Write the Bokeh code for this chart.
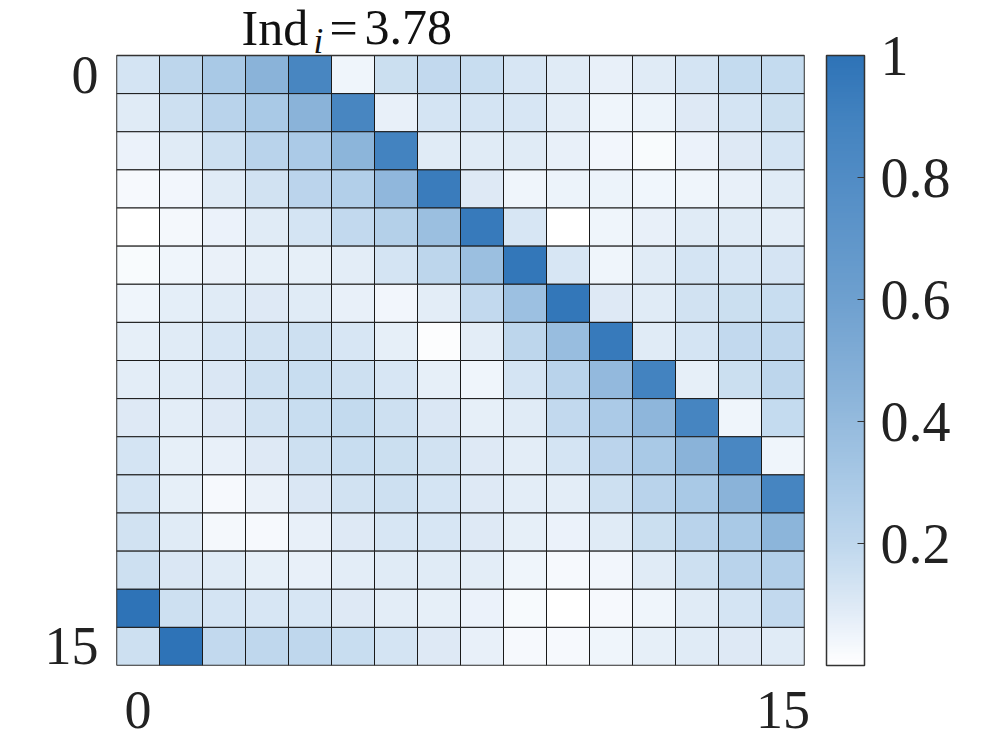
import numpy as np
from bokeh.plotting import figure
from bokeh.models import (ColumnDataSource, LinearColorMapper, ColorBar, FixedTicker,
                          CustomJSTickFormatter)
from bokeh.core.properties import value
from bokeh.embed import file_html
from bokeh.resources import INLINE

# ---------------- data ----------------
row_00 = [0.13, 0.21, 0.30, 0.45, 0.86, 0.05, 0.16, 0.19, 0.17, 0.12, 0.09, 0.07, 0.09, 0.13, 0.18, 0.18]
row_01 = [0.09, 0.15, 0.23, 0.30, 0.45, 0.86, 0.07, 0.13, 0.13, 0.12, 0.085, 0.05, 0.055, 0.10, 0.13, 0.16]
row_02 = [0.06, 0.09, 0.15, 0.23, 0.29, 0.44, 0.89, 0.09, 0.09, 0.09, 0.07, 0.04, 0.02, 0.06, 0.10, 0.13]
row_03 = [0.03, 0.04, 0.09, 0.14, 0.22, 0.26, 0.42, 0.94, 0.10, 0.05, 0.055, 0.055, 0.045, 0.05, 0.07, 0.09]
row_04 = [0.0, 0.035, 0.06, 0.09, 0.13, 0.19, 0.25, 0.37, 0.95, 0.12, 0.0, 0.05, 0.07, 0.09, 0.09, 0.085]
row_05 = [0.02, 0.05, 0.065, 0.075, 0.075, 0.085, 0.13, 0.21, 0.37, 0.97, 0.12, 0.05, 0.09, 0.13, 0.12, 0.125]
row_06 = [0.05, 0.08, 0.09, 0.10, 0.09, 0.07, 0.04, 0.085, 0.19, 0.36, 0.97, 0.10, 0.09, 0.14, 0.16, 0.17]
row_07 = [0.075, 0.09, 0.12, 0.14, 0.15, 0.12, 0.075, 0.01, 0.085, 0.21, 0.38, 0.95, 0.09, 0.13, 0.19, 0.20]
row_08 = [0.085, 0.09, 0.11, 0.15, 0.17, 0.15, 0.12, 0.075, 0.05, 0.13, 0.23, 0.41, 0.89, 0.075, 0.16, 0.21]
row_09 = [0.10, 0.085, 0.10, 0.14, 0.17, 0.185, 0.15, 0.11, 0.075, 0.09, 0.19, 0.29, 0.43, 0.87, 0.05, 0.18]
row_10 = [0.13, 0.075, 0.07, 0.10, 0.15, 0.17, 0.16, 0.14, 0.10, 0.085, 0.13, 0.22, 0.30, 0.45, 0.85, 0.05]
row_11 = [0.13, 0.075, 0.03, 0.065, 0.11, 0.14, 0.15, 0.13, 0.10, 0.085, 0.085, 0.15, 0.23, 0.30, 0.45, 0.87]
row_12 = [0.14, 0.09, 0.035, 0.03, 0.07, 0.10, 0.12, 0.12, 0.10, 0.075, 0.06, 0.09, 0.16, 0.23, 0.30, 0.44]
row_13 = [0.15, 0.11, 0.09, 0.075, 0.07, 0.085, 0.09, 0.09, 0.085, 0.05, 0.03, 0.04, 0.09, 0.15, 0.23, 0.26]
row_14 = [1.0, 0.15, 0.13, 0.12, 0.12, 0.10, 0.085, 0.075, 0.06, 0.025, 0.0, 0.03, 0.05, 0.09, 0.13, 0.19]
row_15 = [0.15, 1.0, 0.19, 0.20, 0.20, 0.17, 0.13, 0.10, 0.07, 0.03, 0.03, 0.05, 0.075, 0.09, 0.10, 0.09]
matrix_rows = [row_00, row_01, row_02, row_03, row_04, row_05, row_06, row_07,
               row_08, row_09, row_10, row_11, row_12, row_13, row_14, row_15]

axis_ticks = [0, 15]
axis_tick_labels = ["0", "15"]
cbar_ticks = [0.2, 0.4, 0.6, 0.8, 1.0]
value_low, value_high = 0.0, 1.0
title_main, title_sub, title_eq, title_value = "Ind", "i", "=", "3.78"

# ---------------- colormap (white -> blue) ----------------
anchor_pos = [0.0, 0.05, 0.10, 0.15, 0.20, 0.30, 0.45, 0.60, 0.80, 0.90, 1.00]
anchor_rgb = [(255, 255, 255), (238, 244, 251), (221, 233, 245), (205, 224, 241),
              (191, 215, 237), (169, 201, 230), (138, 179, 217), (110, 160, 207),
              (81, 140, 197), (66, 130, 191), (46, 115, 183)]
t = np.linspace(0, 1, 256)
chan = np.array(anchor_rgb, dtype=float)
palette = []
for tt in t:
    r = np.interp(tt, anchor_pos, chan[:, 0])
    g = np.interp(tt, anchor_pos, chan[:, 1])
    b = np.interp(tt, anchor_pos, chan[:, 2])
    palette.append("#%02x%02x%02x" % (int(round(r)), int(round(g)), int(round(b))))

mapper = LinearColorMapper(palette=palette, low=value_low, high=value_high)

n = len(matrix_rows)
xs, ys, vs = [], [], []
for i, row in enumerate(matrix_rows):
    for j, v in enumerate(row):
        xs.append(j)
        ys.append(i)
        vs.append(v)
src = ColumnDataSource(dict(x=xs, y=ys, v=vs))

FONT = "Liberation Serif"

# layout geometry (pixels)
grid_w_px, grid_h_px = 688, 610
title_pad_px = 55                      # space above the matrix for the title
px_per_x = grid_w_px / n
px_per_y = grid_h_px / n
y_top = -0.5 - title_pad_px / px_per_y

p = figure(frame_width=grid_w_px, frame_height=grid_h_px + title_pad_px,
           x_range=(-0.5, n - 0.5), y_range=(n - 0.5, y_top),
           output_backend="svg", toolbar_location=None,
           min_border_left=116, min_border_top=0, min_border_bottom=80,
           min_border_right=30)
p.background_fill_color = "white"
p.border_fill_color = "white"
p.outline_line_color = None
p.grid.visible = False

p.rect(x="x", y="y", width=1, height=1, source=src,
       fill_color={"field": "v", "transform": mapper},
       line_color="#1a1a1a", line_width=1)
# outer box of the matrix
p.rect(x=(n - 1) / 2, y=(n - 1) / 2, width=n, height=n, fill_color=None,
       line_color="#333333", line_width=1.5)

for ax in (p.xaxis[0], p.yaxis[0]):
    ax.ticker = FixedTicker(ticks=axis_ticks)
    ax.major_label_overrides = {axis_ticks[0]: axis_tick_labels[0], axis_ticks[1]: axis_tick_labels[1]}
    ax.axis_line_color = None
    ax.major_tick_line_color = None
    ax.minor_tick_line_color = None
    ax.major_label_text_font = FONT
    ax.major_label_text_font_size = "54px"
    ax.major_label_text_color = "#222222"
p.xaxis[0].major_label_standoff = 20
p.yaxis[0].major_label_standoff = 12

cb = ColorBar(color_mapper=mapper, ticker=FixedTicker(ticks=cbar_ticks),
              formatter=CustomJSTickFormatter(code="return tick >= 0.999 ? '1' : tick.toFixed(1);"),
              width=38, height=grid_h_px, padding=0, margin=0, location=(22, 0),
              major_label_text_font=FONT, major_label_text_font_size="56px",
              major_label_text_color="#222222",
              label_standoff=16, major_tick_in=7, major_tick_out=0,
              major_tick_line_color="#333333", minor_tick_line_color=None,
              bar_line_color="#333333", bar_line_width=1.5,
              border_line_color=None, background_fill_color=None)
p.add_layout(cb, "right")

# title "Ind_i=3.78" drawn as text pieces above the matrix
def data_x(page_x):
    return -0.5 + (page_x - 116) / px_per_x

def data_y(px_above_grid):
    return -0.5 - px_above_grid / px_per_y

title_src = ColumnDataSource(dict(
    x=[data_x(241), data_x(329), data_x(364)],
    y=[data_y(28), data_y(28), data_y(28)],
    text=[title_main, title_eq, title_value]))
p.text(x="x", y="y", text="text", source=title_src,
       text_font=value(FONT), text_font_size="50px", text_color="#111111",
       text_align="left", text_baseline="alphabetic")
sub_src = ColumnDataSource(dict(x=[data_x(313)], y=[data_y(14)], text=[title_sub]))
p.text(x="x", y="y", text="text", source=sub_src,
       text_font=value(FONT), text_font_style="italic", text_font_size="35px",
       text_color="#111111", text_align="left", text_baseline="alphabetic")

open("out.html", "w").write(file_html(p, INLINE))
